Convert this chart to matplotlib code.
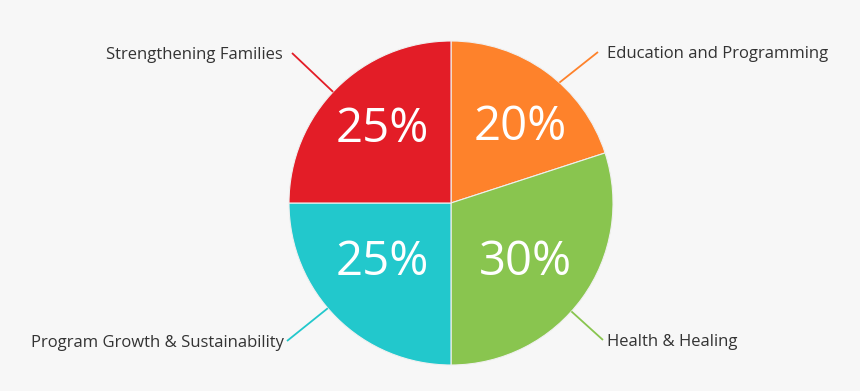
import numpy as np
import matplotlib
matplotlib.use("Agg")
import matplotlib.pyplot as plt

labels = ["Education and Programming", "Health & Healing",
          "Program Growth & Sustainability", "Strengthening Families"]
shares = [20, 30, 25, 25]
colors = ["#fe822b", "#89c54f", "#22c8cc", "#e31d27"]

plt.rcParams['font.family'] = ['Open Sans', 'DejaVu Sans']

W, H = 860, 391
fig = plt.figure(figsize=(W / 100, H / 100), dpi=100, facecolor="#f7f7f7")
ax = fig.add_axes([0, 0, 1, 1])

cx, cy, r = 451, 188, 162
wedges, _ = ax.pie(shares, colors=colors, startangle=90, counterclock=False,
                   center=(cx, cy), radius=r, frame=True,
                   wedgeprops=dict(edgecolor="#f0f0f0", linewidth=0.8))
ax.set_xlim(0, W)
ax.set_ylim(0, H)
ax.set_aspect('equal')
ax.axis('off')

# percentage labels inside slices (angle deg, fraction of radius)
pct_pos = [(49.6, 0.66), (-35.8, 0.57), (-142, 0.54), (131, 0.65)]
for v, (a, f) in zip(shares, pct_pos):
    t = np.deg2rad(a)
    ax.text(cx + f * r * np.cos(t), cy + f * r * np.sin(t), f"{v}%",
            ha='center', va='center_baseline', color='white', fontsize=34)

# leader lines and outside labels: (edge angle, outer end, alignment, text gap)
leader = [(48, (598, 339), 'left', 9), (-42, (603, 51), 'left', 4),
          (-139.5, (287, 50), 'right', -3), (136.7, (292, 338), 'right', -9)]
for lab, col, (a, (tx, ty), ha, gap) in zip(labels, colors, leader):
    t = np.deg2rad(a)
    ex, ey = cx + r * np.cos(t), cy + r * np.sin(t)
    ax.plot([ex, tx], [ey, ty], color=col, lw=1.3, solid_capstyle='butt')
    ax.text(tx + gap, ty, lab, ha=ha, va='center_baseline', color='#333333',
            fontsize=12)

fig.savefig("out.png", dpi=100, facecolor=fig.get_facecolor())
